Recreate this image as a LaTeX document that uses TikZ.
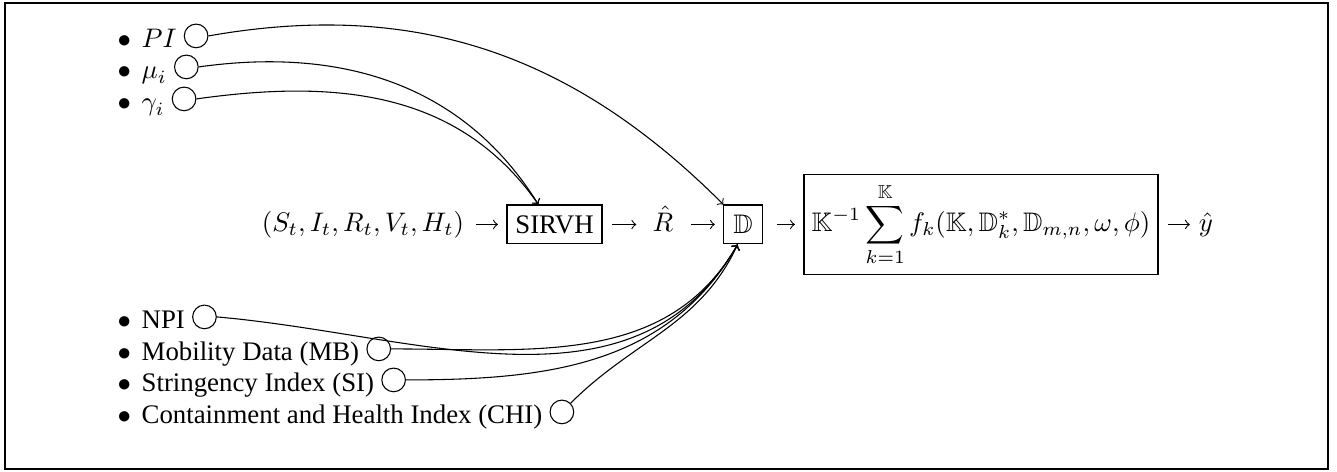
\documentclass[tikz,border=0pt]{standalone}
\usepackage{amssymb}
\usepackage{fontspec}
\setmainfont{Liberation Serif}

\begin{document}
\begin{tikzpicture}[x=0.0131cm,y=0.0131cm,>=to]
\tikzset{
    item/.style={anchor=base west,inner sep=0pt},
    port/.style={draw,circle,minimum size=0.31cm,inner sep=0pt,anchor=west},
    term/.style={text height=7.5pt,text depth=2.5pt},
    stage/.style={draw,inner sep=0pt},
    flow/.style={->,shorten <=2.5pt,shorten >=3.2pt},
    feed/.style={->}
}
\useasboundingbox (0,0) rectangle (1337,472);
\draw[line width=1pt] (5,3) rectangle (1328,469);

% epidemic parameters
\node[item] (pi) at (117,424) {$\bullet$\hspace{0.4em}$PI$};
\node[port] (piC) at ([xshift=2.5pt,yshift=4.5pt]pi.base east) {};
\node[item] (mu) at (117,393) {$\bullet$\hspace{0.4em}$\mu_i$};
\node[port] (muC) at ([xshift=2.5pt,yshift=4.5pt]mu.base east) {};
\node[item] (gam) at (117,361) {$\bullet$\hspace{0.4em}$\gamma_i$};
\node[port] (gamC) at ([xshift=2.5pt,yshift=4.5pt]gam.base east) {};

% external covariates
\node[item] (npi) at (117,143) {$\bullet$\hspace{0.4em}NPI};
\node[port] (npiC) at ([xshift=2.5pt,yshift=4.5pt]npi.base east) {};
\node[item] (mb) at (117,111) {$\bullet$\hspace{0.4em}Mobility Data (MB)};
\node[port] (mbC) at ([xshift=2.5pt,yshift=4.5pt]mb.base east) {};
\node[item] (si) at (117,80) {$\bullet$\hspace{0.4em}Stringency Index (SI)};
\node[port] (siC) at ([xshift=2.5pt,yshift=4.5pt]si.base east) {};
\node[item] (chi) at (117,48) {$\bullet$\hspace{0.4em}Containment and Health Index (CHI)};
\node[port] (chiC) at ([xshift=2.5pt,yshift=4.5pt]chi.base east) {};

% main pipeline
\node[term] (state) at (363,247.5) {$(S_t,I_t,R_t,V_t,H_t)$};
\node[stage,minimum width=1.245cm,minimum height=0.51cm] (sirvh) at (554.5,247.5) {SIRVH};
\node[term] (rhat) at (663,247.5) {$\hat{R}$};
\node[stage,minimum width=0.5cm,minimum height=0.51cm] (dd) at (743,247.5) {$\mathbb{D}$};
\node[stage,minimum width=4.64cm,minimum height=1.32cm] (ens) at (981,247.5)
    {$\displaystyle \mathbb{K}^{-1}\sum_{k=1}^{\mathbb{K}} f_k(\mathbb{K},\mathbb{D}_k^{*},\mathbb{D}_{m,n},\omega,\phi)$};
\node[term,inner sep=1pt] (yhat) at (1206,247.5) {$\hat{y}$};

\draw[flow,shorten <=1pt] (state) -- (sirvh);
\draw[flow,shorten <=3.7pt,shorten >=2.6pt] (sirvh) -- (rhat);
\draw[flow,shorten <=3pt] (rhat) -- (dd);
\draw[flow,shorten <=5.5pt] (dd) -- (ens);
\draw[flow,shorten <=3.7pt,shorten >=2.2pt] (ens) -- (yhat);

\coordinate (sirvhIn) at ([xshift=-6pt]sirvh.north);
\coordinate (ddIn) at ([xshift=-2pt]dd.south);

\draw[feed] (piC.east) to[out=10,in=135] (dd.north west);
\draw[feed] (muC.east) to[out=8,in=122] (sirvhIn);
\draw[feed] (gamC.east) to[out=8,in=125] (sirvhIn);

\draw[feed] (npiC.east) to[out=-5,in=-120] (ddIn);
\draw[feed] (mbC.east) to[out=0,in=-120] (ddIn);
\draw[feed] (siC.east) to[out=0,in=-120] (ddIn);
\draw[feed] (chiC.north east) to[out=45,in=-115] (ddIn);
\end{tikzpicture}
\end{document}
